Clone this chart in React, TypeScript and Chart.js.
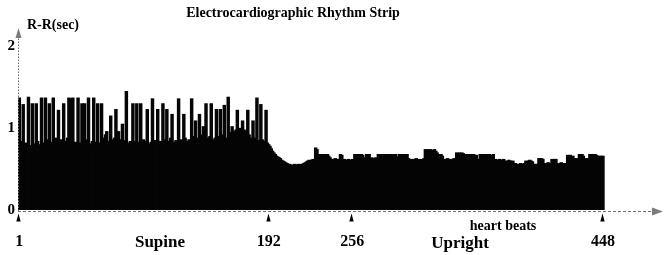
import React, { useEffect, useRef } from "react";
import { Chart, registerables } from "chart.js";

Chart.register(...registerables);

// R-R interval (seconds) per heart beat, supine phase: beats 1..192
const supineRR = [
  1.37, 0.80, 0.84, 1.29, 0.78, 0.82, 0.80, 1.38, 0.76, 0.79,
  1.30, 0.81, 0.78, 1.30, 0.84, 0.80, 0.77, 1.37, 0.82, 0.79,
  1.37, 0.86, 0.80, 1.30, 0.78, 0.83, 1.37, 0.85, 0.88, 0.80,
  1.22, 0.82, 0.86, 0.79, 1.30, 0.84, 0.81, 0.88, 1.37, 1.36,
  0.85, 1.37, 0.80, 0.83, 0.79, 1.37, 0.82, 0.78, 1.30, 0.84,
  1.30, 0.80, 0.86, 1.37, 0.81, 0.77, 0.84, 1.37, 0.80, 0.83,
  1.30, 0.79, 0.82, 1.30, 0.85, 0.88, 0.92, 0.96, 0.84, 0.80,
  1.15, 0.86, 0.82, 0.88, 1.23, 0.84, 0.96, 0.83, 0.86, 1.05,
  0.80, 0.85, 1.45, 0.82, 0.79, 0.84, 0.81, 1.30, 0.84, 0.81,
  1.30, 0.83, 0.79, 1.30, 0.82, 0.86, 0.80, 0.84, 1.23, 0.81,
  0.78, 0.83, 1.36, 0.80, 0.85, 0.82, 1.23, 0.79, 0.84, 0.81,
  1.30, 0.86, 0.82, 1.23, 0.80, 0.84, 0.88, 1.17, 0.83, 0.79,
  0.85, 0.82, 1.36, 0.80, 0.86, 0.83, 1.17, 0.88, 0.84, 0.81,
  0.86, 0.82, 1.36, 0.85, 0.90, 1.09, 0.84, 0.88, 1.17, 0.86,
  0.92, 1.02, 0.85, 1.30, 0.88, 0.84, 0.90, 1.30, 0.86, 0.82,
  0.88, 1.23, 0.85, 0.90, 1.23, 0.86, 0.92, 1.28, 0.88, 0.84,
  1.38, 0.90, 0.95, 1.02, 0.96, 0.92, 0.98, 1.22, 0.95, 1.00,
  0.94, 1.09, 0.98, 0.93, 0.97, 1.22, 0.92, 0.88, 0.85, 1.09,
  0.84, 0.88, 1.37, 0.85, 0.82, 1.29, 0.86, 0.83, 0.84, 1.22,
  0.82, 0.80,
];

// R-R interval (seconds) per heart beat, upright phase: beats 193..448
const uprightRR = [
  0.78, 0.75, 0.72, 0.70,
  0.68, 0.66, 0.65, 0.64, 0.63,
  0.61, 0.60, 0.59, 0.58, 0.57,
  0.56, 0.56, 0.55, 0.55, 0.55, 0.56, 0.55, 0.55, 0.56, 0.55, 0.56, 0.56, 0.57,
  0.58, 0.59, 0.60, 0.61, 0.60, 0.61, 0.62, 0.61,
  0.76, 0.74,
  0.68, 0.67, 0.68, 0.68, 0.66, 0.68, 0.67, 0.68, 0.66, 0.64,
  0.62, 0.61, 0.62, 0.63, 0.61, 0.62, 0.62,
  0.68, 0.67,
  0.61, 0.62, 0.60, 0.61, 0.62, 0.61, 0.60, 0.62, 0.61,
  0.68, 0.67, 0.68, 0.68, 0.66, 0.68, 0.67,
  0.64, 0.62,
  0.68, 0.67, 0.68,
  0.63, 0.64, 0.62, 0.63, 0.64, 0.62,
  0.68, 0.67, 0.68, 0.68, 0.66, 0.68, 0.67, 0.68, 0.67,
  0.68, 0.66, 0.68, 0.67, 0.68, 0.65, 0.63,
  0.68, 0.67, 0.68, 0.66, 0.68, 0.67, 0.68,
  0.63, 0.62, 0.61, 0.62, 0.61, 0.62, 0.63, 0.61, 0.62, 0.61, 0.62, 0.61, 0.63,
  0.74, 0.73, 0.74, 0.72, 0.74, 0.73, 0.71, 0.74, 0.72, 0.70,
  0.68, 0.67, 0.68, 0.66,
  0.62, 0.61, 0.62, 0.63, 0.61, 0.62, 0.61, 0.62, 0.63, 0.61,
  0.70, 0.69, 0.70, 0.68, 0.70, 0.69,
  0.68, 0.67, 0.68, 0.66, 0.68, 0.67, 0.68, 0.68, 0.66, 0.67,
  0.62, 0.61,
  0.68, 0.67, 0.68, 0.66, 0.68, 0.67, 0.68, 0.68, 0.66, 0.67, 0.68,
  0.61, 0.62, 0.60, 0.61, 0.62, 0.61, 0.60, 0.62,
  0.60, 0.59, 0.60, 0.61, 0.60, 0.59, 0.60,
  0.56, 0.57, 0.56, 0.55, 0.56, 0.57, 0.56, 0.56, 0.57,
  0.60, 0.59, 0.60, 0.61, 0.60, 0.59,
  0.56, 0.55, 0.56, 0.56,
  0.63, 0.62, 0.63, 0.62,
  0.57, 0.56, 0.57, 0.58, 0.56, 0.57,
  0.62, 0.61, 0.62, 0.62,
  0.57, 0.56, 0.57, 0.58, 0.57, 0.56, 0.57, 0.56,
  0.67, 0.66, 0.67, 0.65, 0.66,
  0.63, 0.62, 0.63, 0.62,
  0.68, 0.67, 0.68, 0.66,
  0.63, 0.62, 0.63, 0.62,
  0.68, 0.67, 0.68, 0.66, 0.68, 0.67,
  0.66, 0.65, 0.66, 0.64, 0.66,
];

const xTickBeats = [1, 192, 256, 448];
const yTickValues = [0, 1, 2];
const titleText = "Electrocardiographic Rhythm Strip";
const yAxisTitle = "R-R(sec)";
const xAxisTitle = "heart beats";
const phaseNames = ["Supine", "Upright"];

const SERIF = "'Liberation Serif', 'Times New Roman', 'DejaVu Serif', serif";

export default function App() {
  const canvasRef = useRef<HTMLCanvasElement>(null);

  useEffect(() => {
    const canvas = canvasRef.current;
    if (!canvas) return;
    const allBeats = [...supineRR, ...uprightRR];
    const points = allBeats.map((v, i) => ({ x: i + 1, y: v }));

    const axisPlugin = {
      id: "stripAxes",
      afterDraw(chart: any) {
        const { ctx, chartArea, scales } = chart;
        const xs = scales.x;
        const ys = scales.y;
        const y0 = ys.getPixelForValue(0);
        const ax = chartArea.left + 0.5;
        const ay = y0 + 1.5;
        ctx.save();
        ctx.strokeStyle = "#6e6e6e";
        ctx.lineWidth = 1;
        // x axis (dashed) with arrow
        ctx.setLineDash([3, 2]);
        ctx.beginPath();
        ctx.moveTo(chartArea.left, ay);
        ctx.lineTo(chartArea.right - 9, ay);
        ctx.stroke();
        // y axis (dotted) with arrow
        ctx.setLineDash([1.5, 1.5]);
        ctx.beginPath();
        ctx.moveTo(ax, y0 + 1);
        ctx.lineTo(ax, chartArea.top + 3);
        ctx.stroke();
        ctx.setLineDash([]);
        ctx.fillStyle = "#7c7c7c";
        ctx.beginPath();
        ctx.moveTo(chartArea.right, ay);
        ctx.lineTo(chartArea.right - 11, ay - 4);
        ctx.lineTo(chartArea.right - 11, ay + 4);
        ctx.closePath();
        ctx.fill();
        ctx.beginPath();
        ctx.moveTo(ax, chartArea.top - 6);
        ctx.lineTo(ax - 3, chartArea.top + 4);
        ctx.lineTo(ax + 3, chartArea.top + 4);
        ctx.closePath();
        ctx.fill();
        // tick markers
        ctx.fillStyle = "#000";
        xTickBeats.forEach((b) => {
          const px = Math.round(xs.getPixelForValue(b)) - 0.5;
          ctx.beginPath();
          ctx.moveTo(px, ay + 2);
          ctx.lineTo(px - 2.2, ay + 10);
          ctx.lineTo(px + 2.2, ay + 10);
          ctx.closePath();
          ctx.fill();
        });
        ctx.restore();
      },
    };

    const chart = new Chart(canvas, {
      type: "bar",
      data: {
        datasets: [
          {
            data: points as any,
            backgroundColor: "#050505",
            borderWidth: 0,
            barThickness: 2.8,
            categoryPercentage: 1,
          },
        ],
      },
      options: {
        animation: false,
        responsive: false,
        maintainAspectRatio: false,
        layout: { padding: { top: 34, right: 3, left: 0, bottom: 0 } },
        plugins: {
          legend: { display: false },
          tooltip: { enabled: false },
          title: { display: false },
        },
        scales: {
          x: {
            type: "linear",
            offset: false,
            min: 0,
            max: 494,
            grid: { display: false, drawTicks: false, offset: false },
            border: { display: false },
            afterFit: (scale: any) => {
              scale.height = 45;
              scale.paddingLeft = 0;
              scale.paddingRight = 0;
            },
            afterBuildTicks: (scale: any) => {
              scale.ticks = xTickBeats.map((v) => ({ value: v }));
            },
            ticks: {
              autoSkip: false,
              maxRotation: 0,
              padding: 22,
              color: "#000",
              font: { family: SERIF, size: 16, weight: "bold" },
              callback: (v: any) => String(v),
            },
          },
          y: {
            type: "linear",
            min: 0,
            max: 2.15,
            grid: { display: false, drawTicks: false },
            border: { display: false },
            afterFit: (scale: any) => {
              scale.width = 18;
              scale.paddingTop = 0;
              scale.paddingBottom = 0;
            },
            afterBuildTicks: (scale: any) => {
              scale.ticks = yTickValues.map((v) => ({ value: v }));
            },
            ticks: {
              padding: 3,
              color: "#000",
              font: { family: SERIF, size: 15, weight: "bold" },
              callback: (v: any) => String(v),
            },
          },
        },
      },
      plugins: [axisPlugin],
    });

    return () => chart.destroy();
  }, []);

  const textStyle = (cx: number, cy: number, size: number, bold = true): React.CSSProperties => ({
    position: "absolute",
    left: cx,
    top: cy,
    transform: "translate(-50%, -50%)",
    fontFamily: SERIF,
    fontSize: size,
    fontWeight: bold ? "bold" : "normal",
    color: "#000",
    whiteSpace: "nowrap",
    lineHeight: 1,
  });

  return (
    <div
      style={{
        position: "fixed",
        left: 0,
        top: 0,
        width: 666,
        height: 255,
        background: "#fff",
        overflow: "hidden",
      }}
    >
      <canvas ref={canvasRef} width={666} height={255} style={{ position: "absolute", left: 0, top: 0, width: 666, height: 255 }} />
      <div style={textStyle(293, 13, 14)}>{titleText}</div>
      <div style={textStyle(53, 25, 14)}>{yAxisTitle}</div>
      <div style={textStyle(503, 226, 14)}>{xAxisTitle}</div>
      <div style={textStyle(160, 241, 17)}>{phaseNames[0]}</div>
      <div style={textStyle(460, 242, 17)}>{phaseNames[1]}</div>
    </div>
  );
}
